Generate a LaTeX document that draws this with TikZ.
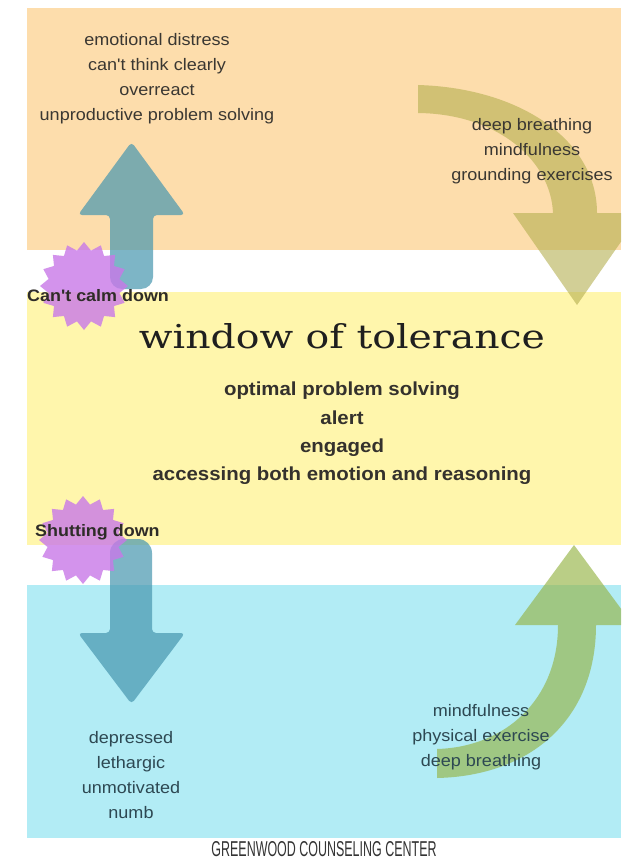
\documentclass[tikz,border=0pt]{standalone}
\usepackage{fontspec}
\usepackage{graphicx}
\setmainfont{Liberation Sans}
\newfontfamily\bodyfont[FakeStretch=1.08]{Liberation Sans}
\newfontfamily\titlefont{DejaVu Serif}
\newfontfamily\footfont[FakeStretch=0.58]{Liberation Sans}
\usetikzlibrary{shapes.geometric}
\definecolor{peach}{RGB}{253,221,172}
\definecolor{lemon}{RGB}{255,246,172}
\definecolor{aqua}{RGB}{178,236,245}
\definecolor{tealarrow}{RGB}{70,150,175}
\definecolor{olivearrow}{RGB}{180,175,80}
\definecolor{greenarrow}{RGB}{150,180,70}
\definecolor{burst}{RGB}{200,120,232}
\definecolor{ink}{RGB}{58,55,50}
\definecolor{inkblue}{RGB}{45,72,82}
\begin{document}
\begin{tikzpicture}[x=1pt,y=-1pt,
  straightarrow/.style={fill=tealarrow,fill opacity=0.7},
  oliveshape/.style={fill=olivearrow,fill opacity=0.6},
  greenshape/.style={fill=greenarrow,fill opacity=0.65},
  burststar/.style={star,star points=16,star point ratio=1.22,minimum size=88pt,inner sep=0pt,fill=burst,fill opacity=0.8,draw=none},
  bodytext/.style={align=center,text=ink,inner sep=0pt,font=\bodyfont\fontsize{16.7}{25}\selectfont},
  boldtext/.style={align=center,text=ink!90!black,inner sep=0pt,font=\bodyfont\bfseries\fontsize{18.9}{28.3}\selectfont},
  labeltext/.style={anchor=west,text=ink!80!black,inner sep=0pt,font=\bodyfont\bfseries\fontsize{16.6}{20}\selectfont}]
\useasboundingbox (0,0) rectangle (621,861);
\clip (0,0) rectangle (621,861);
\fill[white] (0,0) rectangle (621,861);
% bands
\fill[peach] (27,8) rectangle (621,250);
\fill[lemon] (27,292) rectangle (621,545);
\fill[aqua] (27,585) rectangle (621,838);
% curved arrow top right
\fill[oliveshape] (418,85) .. controls (520,88) and (597,140) .. (597,213)
  -- (641,213) -- (577,305) -- (513,213) -- (553,213)
  .. controls (551,162) and (500,114) .. (418,113) -- cycle;
% curved arrow bottom right
\fill[greenshape] (437,749) .. controls (505,747) and (558,700) .. (558,625)
  -- (515,625) -- (574,545) -- (633,625) -- (596,625)
  .. controls (596,720) and (530,776) .. (437,778) -- cycle;
% up arrow
\fill[straightarrow] [rounded corners=4] (110,215) -- (78,215) -- (131.5,142) -- (185,215) -- (153,215) [rounded corners=12] -- (153,289) -- (110,289) [rounded corners=4] -- cycle;
% down arrow
\fill[straightarrow] [rounded corners=4] (110,633) -- (78,633) -- (131.5,704) -- (185,633) -- (152,633) [rounded corners=14] -- (152,539) -- (110,539) [rounded corners=4] -- cycle;
% bursts
\node[burststar] (calmburst) at (84,286) {};
\node[burststar] (shutburst) at (83,540) {};
% texts
\node[bodytext] (hyper) at (157,78.5) {emotional distress\\can't think clearly\\overreact\\unproductive problem solving};
\node[bodytext] (calmtools) at (532,151) {deep breathing\\mindfulness\\grounding exercises};
\node[labeltext] (calmlabel) at (27,296) {Can't calm down};
\node[inner sep=0pt,anchor=base,text=black!88] (title) at (342,348) {\resizebox{406pt}{25pt}{\titlefont window of tolerance}};
\node[boldtext] (optimal) at (342,433.5) {optimal problem solving\\alert\\engaged\\accessing both emotion and reasoning};
\node[labeltext] (shutlabel) at (35,532) {Shutting down};
\node[bodytext,text=inkblue] (hypo) at (131,775.5) {depressed\\lethargic\\unmotivated\\numb};
\node[bodytext,text=inkblue] (risetools) at (481,737.5) {mindfulness\\physical exercise\\deep breathing};
\node[inner sep=0pt,text=black!80,font=\footfont\fontsize{21.5}{21.5}\selectfont] (footer) at (324,849) {GREENWOOD COUNSELING CENTER};
\end{tikzpicture}
\end{document}
